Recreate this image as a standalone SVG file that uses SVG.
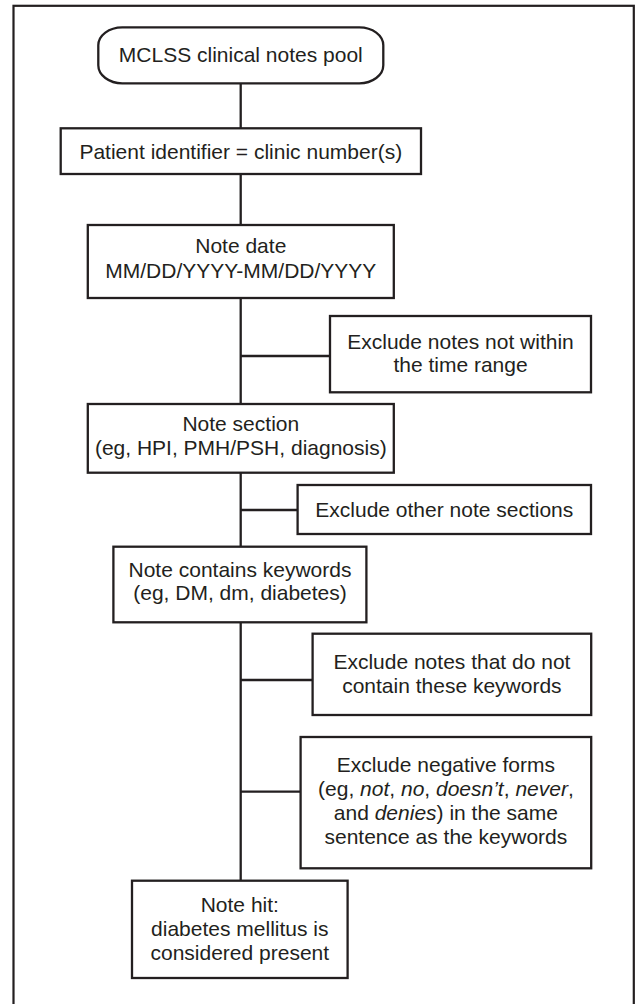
<svg xmlns="http://www.w3.org/2000/svg" width="635" height="1004" viewBox="0 0 635 1004">
<style>
.frame{fill:none;stroke:#231f20;stroke-width:2.2}
.box{fill:#fff;stroke:#231f20;stroke-width:2.3}
.conn{fill:none;stroke:#231f20;stroke-width:2.3}
.t{font-family:"Liberation Sans",Arial,sans-serif;font-size:21px;fill:#231f20;text-anchor:middle}
.i{font-style:italic}
</style>
<rect class="frame" x="13.5" y="5.8" width="620.3" height="1010"/>
<g id="connectors">
<path class="conn" d="M240.7 83.3V128.3M240.7 174V225M240.7 298V404M240.7 472.7V546.7M240.7 622.3V880.7"/>
<path class="conn" d="M240.7 356H330M240.7 510H297.6M240.7 680H312.6M240.7 791.7H300.4"/>
</g>
<g id="start">
<rect class="box" x="98.3" y="27.3" width="285" height="56" rx="24" ry="18"/>
<text class="t" x="240.8" y="62.3">MCLSS clinical notes pool</text>
</g>
<g id="patient">
<rect class="box" x="60.7" y="128.3" width="360.3" height="45.7"/>
<text class="t" x="240.8" y="159.3">Patient identifier = clinic number(s)</text>
</g>
<g id="notedate">
<rect class="box" x="87.8" y="225" width="306" height="73"/>
<text class="t" x="240.8" y="253.3">Note date</text>
<text class="t" x="240.8" y="277.8">MM/DD/YYYY-MM/DD/YYYY</text>
</g>
<g id="excl-time">
<rect class="box" x="330" y="316" width="261" height="76.3"/>
<text class="t" x="460.5" y="349.4">Exclude notes not within</text>
<text class="t" x="460.5" y="372.4">the time range</text>
</g>
<g id="notesection">
<rect class="box" x="87.8" y="404" width="306" height="68.7"/>
<text class="t" x="240.8" y="431">Note section</text>
<text class="t" x="240.8" y="454.5">(eg, HPI, PMH/PSH, diagnosis)</text>
</g>
<g id="excl-sections">
<rect class="box" x="297.6" y="485" width="293.4" height="49"/>
<text class="t" x="444.3" y="516.7">Exclude other note sections</text>
</g>
<g id="keywords">
<rect class="box" x="113.4" y="546.7" width="253" height="75.6"/>
<text class="t" x="240" y="576.7">Note contains keywords</text>
<text class="t" x="240" y="600.2">(eg, DM, dm, diabetes)</text>
</g>
<g id="excl-keywords">
<rect class="box" x="312.6" y="633.7" width="278.6" height="81.3"/>
<text class="t" x="451.9" y="669.3">Exclude notes that do not</text>
<text class="t" x="451.9" y="692.7">contain these keywords</text>
</g>
<g id="excl-negative">
<rect class="box" x="300.6" y="737" width="290.6" height="131.3"/>
<text class="t" x="445.9" y="772.2">Exclude negative forms</text>
<text class="t" x="445.9" y="796">(eg, <tspan class="i">not</tspan>, <tspan class="i">no</tspan>, <tspan class="i">doesn’t</tspan>, <tspan class="i">never</tspan>,</text>
<text class="t" x="445.9" y="820">and <tspan class="i">denies</tspan>) in the same</text>
<text class="t" x="445.9" y="844.2">sentence as the keywords</text>
</g>
<g id="notehit">
<rect class="box" x="132" y="880.7" width="215.6" height="97.3"/>
<text class="t" x="239.8" y="911.7">Note hit:</text>
<text class="t" x="239.8" y="935.8">diabetes mellitus is</text>
<text class="t" x="239.8" y="959.5">considered present</text>
</g>
</svg>
